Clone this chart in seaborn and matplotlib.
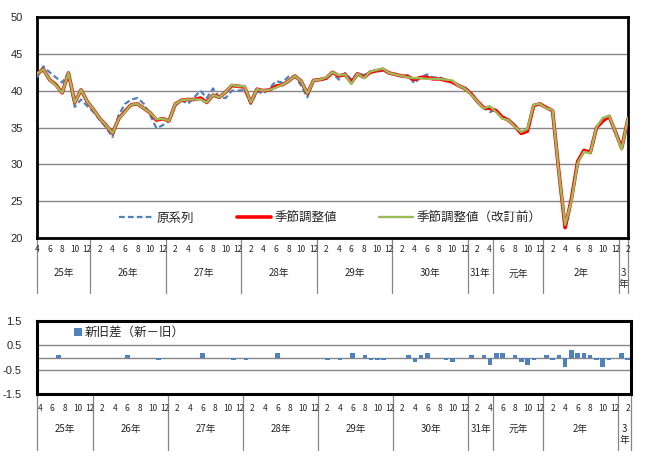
import numpy as np
import pandas as pd
import matplotlib
matplotlib.use("Agg")
import matplotlib.pyplot as plt
import matplotlib.transforms as mtransforms
from matplotlib.lines import Line2D
from matplotlib.patches import Patch
import seaborn as sns

# ---------------- data ----------------
# months: Apr 2013 (H25) ... Feb 2021 (R3)
month_nums = [4, 5, 6, 7, 8, 9, 10, 11, 12] + [1, 2, 3, 4, 5, 6, 7, 8, 9, 10, 11, 12] * 7 + [1, 2]

adjusted = [42.3, 42.9, 41.5, 40.8, 39.7, 42.4, 38.4, 40.1, 38.5,
            37.4, 36.2, 35.3, 34.2, 36.2, 37.2, 38.1, 38.2, 37.6, 37.0, 36.0, 36.2,
            35.9, 38.2, 38.7, 38.8, 38.8, 39.0, 38.4, 39.4, 39.1, 39.8, 40.7, 40.6,
            40.5, 38.4, 40.2, 40.0, 40.1, 40.6, 40.8, 41.3, 42.0, 41.3, 39.6, 41.4,
            41.5, 41.7, 42.5, 42.0, 42.2, 41.1, 42.3, 41.8, 42.5, 42.7, 42.9, 42.4,
            42.2, 42.0, 41.9, 41.5, 41.8, 41.8, 41.6, 41.6, 41.4, 41.2, 40.7, 40.3,
            39.6, 38.6, 37.7, 37.6, 37.3, 36.4, 36.0, 35.2, 34.2, 34.5, 38.0, 38.2,
            37.7, 37.3, 29.0, 21.4, 25.3, 30.4, 31.9, 31.6, 35.0, 35.9, 36.5, 34.4,
            32.2, 36.2]

original = [41.8, 43.3, 42.5, 41.8, 41.1, 42.4, 37.8, 38.8, 37.9,
            37.1, 36.0, 35.0, 33.7, 36.7, 38.2, 38.8, 39.0, 38.2, 36.7, 34.9, 35.3,
            35.9, 38.0, 38.7, 38.2, 39.1, 40.0, 39.0, 40.3, 39.1, 39.0, 40.0, 40.0,
            40.1, 38.2, 39.9, 39.6, 40.3, 41.3, 41.1, 41.9, 42.0, 40.7, 39.1, 41.4,
            41.5, 41.6, 42.4, 41.5, 42.4, 41.5, 42.4, 42.1, 42.6, 42.6, 42.7, 42.4,
            42.3, 41.9, 42.1, 41.0, 41.8, 42.2, 41.8, 41.8, 41.5, 41.2, 40.7, 40.5,
            39.8, 38.5, 37.7, 37.1, 37.4, 36.4, 36.0, 35.2, 34.2, 34.5, 38.0, 38.2,
            37.7, 37.3, 29.0, 21.4, 25.3, 30.4, 31.9, 31.6, 35.0, 35.9, 36.5, 34.4,
            32.2, 36.2]

# revision difference (new - old)
diff = [0.0, 0.0, 0.0, 0.1, 0.0, 0.0, 0.0, 0.0, 0.0,
        0.0, 0.0, 0.0, 0.0, 0.0, 0.1, 0.0, 0.0, 0.0, 0.0, -0.1, 0.0,
        0.0, 0.0, 0.0, 0.0, 0.0, 0.2, 0.0, 0.0, 0.0, 0.0, -0.1, 0.0,
        -0.1, 0.0, 0.0, 0.0, 0.0, 0.2, 0.0, 0.0, 0.0, 0.0, 0.0, 0.0,
        0.0, -0.1, 0.0, -0.1, 0.0, 0.2, 0.0, 0.1, -0.1, -0.1, -0.1, 0.0,
        0.0, 0.0, 0.1, -0.2, 0.1, 0.2, 0.0, 0.0, -0.1, -0.2, 0.0, 0.0,
        0.1, 0.0, 0.1, -0.3, 0.2, 0.2, 0.0, 0.1, -0.2, -0.3, -0.1, 0.0,
        0.1, -0.1, 0.1, -0.4, 0.3, 0.2, 0.2, 0.1, -0.1, -0.4, -0.1, 0.0,
        0.2, -0.1]

previous = [round(a - d, 1) for a, d in zip(adjusted, diff)]

year_labels = ["25年", "26年", "27年", "28年", "29年", "30年", "31年", "元年", "2年", "3\n年"]
year_bounds = [-0.5, 8.5, 20.5, 32.5, 44.5, 56.5, 68.5, 72.5, 80.5, 92.5, 94.5]

series_names = ["原系列", "季節調整値", "季節調整値（改訂前）"]
diff_name = "新旧差（新－旧）"

# ---------------- style ----------------
sns.set_style("white")
plt.rcParams["font.family"] = ["Noto Sans CJK JP", "DejaVu Sans"]
plt.rcParams["axes.unicode_minus"] = False

BLUE = "#4F81BD"
RED = "#FF0000"
GREEN = "#9BBB59"
GRID = "#868686"

idx = np.arange(len(month_nums))
df = pd.DataFrame({"i": idx, series_names[0]: original, series_names[1]: adjusted,
                   series_names[2]: previous, "diff": diff})

fig = plt.figure(figsize=(6.48, 4.59), dpi=100)
ax1 = fig.add_axes([37 / 648, 1 - 238 / 459, 591 / 648, 221 / 459])
ax2 = fig.add_axes([36.7 / 648, 1 - 394 / 459, 594 / 648, 73 / 459])

# ---------------- upper chart ----------------
dash = (0, (2.6, 1.4))
sns.lineplot(data=df, x="i", y=series_names[0], ax=ax1, color=BLUE, lw=1.6,
             linestyle=dash, zorder=3)
sns.lineplot(data=df, x="i", y=series_names[1], ax=ax1, color=RED, lw=2.6, zorder=4)
sns.lineplot(data=df, x="i", y=series_names[2], ax=ax1, color=GREEN, lw=1.7, zorder=5)

ax1.set_xlim(0, len(month_nums) - 1)
ax1.set_ylim(20, 50)
ax1.set_yticks(np.arange(20, 51, 5))
ax1.set_xticks([])
ax1.set_xlabel("")
ax1.set_ylabel("")
ax1.yaxis.grid(True, color=GRID, lw=1.0)
ax1.xaxis.grid(False)
ax1.tick_params(axis="y", length=0, pad=10, labelsize=8)
for lab in ax1.get_yticklabels():
    lab.set_fontfamily(["Liberation Sans", "DejaVu Sans"])
for s in ax1.spines.values():
    s.set_color("black")
    s.set_linewidth(2)
    s.set_visible(True)

handles = [Line2D([], [], color=BLUE, lw=1.6, linestyle=dash),
           Line2D([], [], color=RED, lw=2.6),
           Line2D([], [], color=GREEN, lw=1.7)]
ax1.legend(handles, series_names, loc="center left",
           bbox_to_anchor=((113 - 37) / 591, 0.09), ncol=3, frameon=False,
           fontsize=9, borderpad=0, handlelength=2.7, handletextpad=0.3,
           columnspacing=3.4)

# category axis (upper)
tr1 = mtransforms.blended_transform_factory(ax1.transData, ax1.transAxes)
for i, m in enumerate(month_nums):
    if m % 2 == 0:
        ax1.text(i, -0.054, str(m), transform=tr1, ha="center", va="center",
                 fontsize=6, clip_on=False)
ub = list(year_bounds)
ub[0] = 0
ub[-1] = len(month_nums) - 1
for b in ub:
    ax1.plot([b, b], [0, -0.25], transform=tr1, color=GRID, lw=0.9, clip_on=False)
for k, lab in enumerate(year_labels):
    c = (ub[k] + ub[k + 1]) / 2
    ax1.text(c, -0.16 if "\n" not in lab else -0.185, lab, transform=tr1,
             ha="center", va="center", fontsize=7, linespacing=1.1, clip_on=False)

# ---------------- lower chart ----------------
sns.barplot(data=df, x="i", y="diff", ax=ax2, color=BLUE, saturation=1,
            width=0.72, linewidth=0, edgecolor="none", zorder=3)
ax2.set_xlim(-0.5, len(month_nums) - 0.5)
ax2.set_ylim(-1.5, 1.5)
ax2.set_yticks([-1.5, -0.5, 0.5, 1.5])
ax2.set_yticklabels(["-1.5", "-0.5", "0.5", "1.5"])
ax2.set_xticks([])
ax2.set_xlabel("")
ax2.set_ylabel("")
ax2.yaxis.grid(True, color=GRID, lw=1.0)
ax2.xaxis.grid(False)
ax2.axhline(0, color=GRID, lw=1.0, zorder=2)
ax2.tick_params(axis="y", length=0, pad=11, labelsize=8)
for lab in ax2.get_yticklabels():
    lab.set_fontfamily(["Liberation Sans", "DejaVu Sans"])
for s in ax2.spines.values():
    s.set_color("black")
    s.set_linewidth(2.2)
    s.set_visible(True)

ax2.legend([Patch(facecolor=BLUE, edgecolor="none")], [diff_name],
           loc="center left", bbox_to_anchor=((68 - 36.7) / 594, 0.836),
           frameon=False, fontsize=9, borderpad=0, handlelength=0.6,
           handleheight=0.6, handletextpad=0.25)

tr2 = mtransforms.blended_transform_factory(ax2.transData, ax2.transAxes)
for i, m in enumerate(month_nums):
    if m % 2 == 0:
        ax2.text(i, -0.205, str(m), transform=tr2, ha="center", va="center",
                 fontsize=6, clip_on=False)
for b in year_bounds:
    ax2.plot([b, b], [0, -0.77], transform=tr2, color=GRID, lw=0.9, clip_on=False)
for k, lab in enumerate(year_labels):
    c = (year_bounds[k] + year_bounds[k + 1]) / 2
    ax2.text(c, -0.48 if "\n" not in lab else -0.55, lab, transform=tr2,
             ha="center", va="center", fontsize=7, linespacing=1.1, clip_on=False)

fig.savefig("out.png", dpi=100)
